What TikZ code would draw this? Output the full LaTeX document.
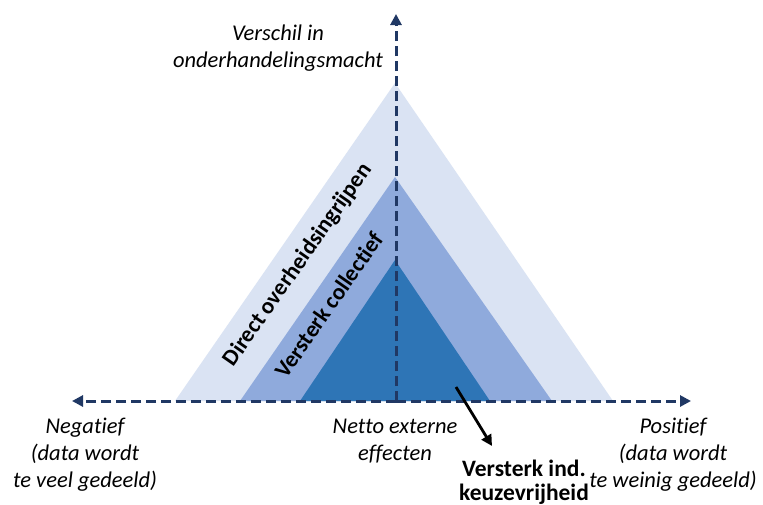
\documentclass[tikz,border=0pt]{standalone}
\usepackage{fontspec}
\setmainfont{Carlito}[Ligatures={NoCommon}]
\usetikzlibrary{arrows.meta}
\definecolor{lightb}{HTML}{DAE3F3}
\definecolor{midb}{HTML}{8FAADC}
\definecolor{darkb}{HTML}{2E75B6}
\definecolor{axisc}{HTML}{203864}
\tikzset{
  axisline/.style={draw=axisc, line width=3pt, dash pattern=on 10pt off 5pt, -{Triangle[length=11pt,width=11pt]}},
  lbl/.style={font=\fontsize{22.5}{27}\selectfont\itshape, align=center, inner sep=0pt},
  edgelbl/.style={font=\fontsize{23}{23}\selectfont\bfseries, inner sep=0pt, rotate=55},
  bluelbl/.style={font=\fontsize{23.5}{24.5}\selectfont\bfseries, align=center, inner sep=0pt},
}
\begin{document}
\begin{tikzpicture}[x=1pt,y=-1pt]
\path[use as bounding box, fill=white] (0,0) rectangle (763,504);
% triangles
\fill[lightb] (175,401) -- (395,83) -- (613,401) -- cycle;
\fill[midb] (240,401) -- (395,177) -- (552,401) -- cycle;
\fill[darkb] (300,401) -- (395,260) -- (490,401) -- cycle;
% axes
\coordinate (o) at (396,401);
\coordinate (left) at (72,401);
\coordinate (right) at (691,401);
\coordinate (top) at (396,14);
\draw[axisline] (o) -- (top);
\draw[axisline] (o) -- (left);
\draw[axisline] (o) -- (right);
% labels
\node[lbl] (ylab) at (278,48.5) {Verschil in\\onderhandelingsmacht};
\node[lbl] (neg) at (85,455) {Negatief\\(data wordt\\te veel gedeeld)};
\node[lbl] (net) at (395,441.5) {Netto externe\\effecten};
\node[lbl] (pos) at (673,455) {Positief\\(data wordt\\te weinig gedeeld)};
\node[edgelbl] (direct) at (298,265) {Direct overheidsingrijpen};
\node[edgelbl] (coll) at (329,305) {Versterk collectief};
\node[bluelbl] (ind) at (524,482) {Versterk ind.\\keuzevrijheid};
% arrow
\coordinate (as) at (456,387);
\coordinate (ae) at (492,446);
\draw[line width=2.8pt, -{Triangle[length=11pt,width=11pt]}] (as) -- (ae);
\end{tikzpicture}
\end{document}
